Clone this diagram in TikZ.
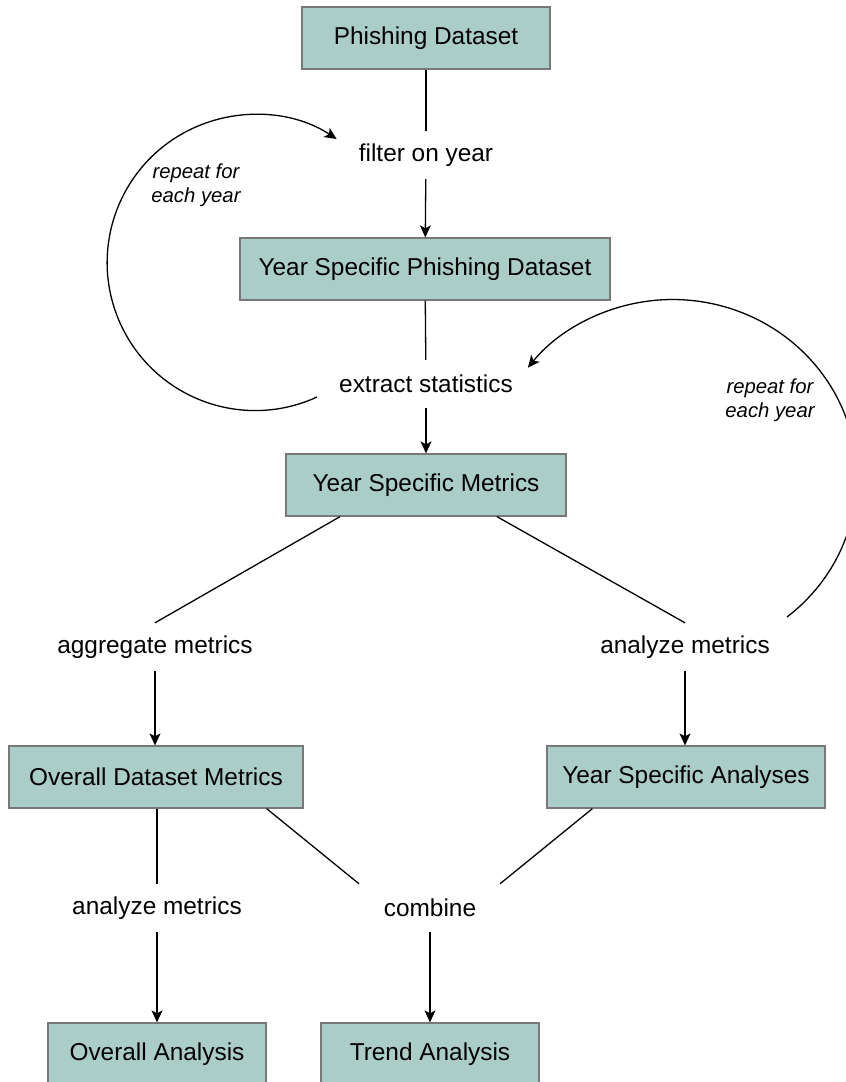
\documentclass[tikz,border=0pt]{standalone}
\usepackage{fontspec}
\setmainfont{Liberation Sans}
\usetikzlibrary{arrows.meta,calc}
\definecolor{boxfill}{RGB}{170,205,199}
\definecolor{boxline}{RGB}{120,120,120}
\begin{document}
\begin{tikzpicture}[x=1pt,y=-1pt,
  box/.style={draw=boxline,fill=boxfill,line width=1.3pt,minimum height=62pt,inner sep=0pt,font=\fontsize{24.4}{29}\selectfont},
  lbl/.style={minimum height=48pt,inner sep=0pt,font=\fontsize{24.4}{29}\selectfont},
  note/.style={align=center,inner sep=0pt,font=\fontsize{20.3}{24}\selectfont\itshape},
  link/.style={line width=1.3pt},
  flow/.style={link,-{Stealth[length=12pt,width=11pt,inset=3pt]}}]
\clip (0,0) rectangle (846,1082);
% boxes
\node[box,minimum width=248pt] (pd) at (426,38) {Phishing Dataset};
\node[box,minimum width=370pt] (yspd) at (425,269) {Year Specific Phishing Dataset};
\node[box,minimum width=280pt] (ysm) at (426,485) {Year Specific Metrics};
\node[box,minimum width=294pt] (odm) at (156,777) {Overall Dataset Metrics};
\node[box,minimum width=278pt] (ysa) at (686,777) {Year Specific Analyses};
\node[box,minimum width=218pt] (oa) at (157,1054) {Overall Analysis};
\node[box,minimum width=218pt] (ta) at (430,1054) {Trend Analysis};
% labels
\node[lbl] (filt) at (426,155) {filter on year};
\node[lbl] (extr) at (426,384) {extract statistics};
\node[lbl] (aggr) at (155,647) {aggregate metrics};
\node[lbl] (anr) at (685,647) {analyze metrics};
\node[lbl] (anl) at (157,908) {analyze metrics};
\node[lbl] (comb) at (430,908) {combine};
\node[note] (lnote) at (196,185) {repeat for\\each year};
\node[note] (rnote) at (770,400) {repeat for\\each year};
% connectors
\draw[link] (pd) -- (filt);
\draw[flow] (filt) -- (yspd);
\draw[link] (yspd) -- (extr);
\draw[flow] (extr) -- (ysm);
\draw[link] ($(ysm.south)+(-86,0)$) -- (aggr.north);
\draw[link] ($(ysm.south)+(71,0)$) -- (anr.north);
\draw[flow] (aggr) -- (aggr |- odm.north);
\draw[flow] (anr) -- (anr |- ysa.north);
\draw[link] (odm.south -| anl) -- (anl);
\draw[flow] (anl) -- (anl |- oa.north);
\draw[link] ($(odm.south east)+(-37,0)$) -- ($(comb.north)+(-71,0)$);
\draw[link] ($(ysa.south west)+(46,0)$) -- ($(comb.north)+(70,0)$);
\draw[flow] (comb) -- (ta);
% loops
\coordinate (lloop) at (317,397);
\coordinate (rloop) at (787,617);
\draw[flow] (lloop) arc[start angle=-65.3,end angle=-303.4,radius=148pt];
\draw[flow] (rloop) arc[start angle=-51.6,end angle=141.9,x radius=184pt,y radius=178pt];
\end{tikzpicture}
\end{document}
